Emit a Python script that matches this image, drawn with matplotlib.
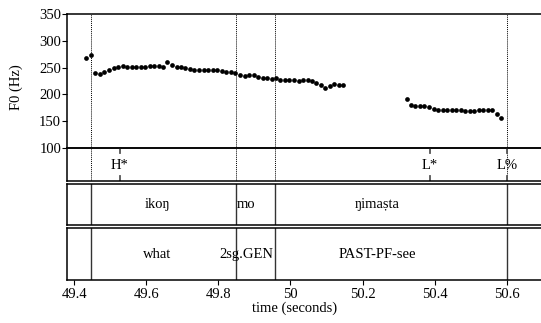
import matplotlib
matplotlib.use("Agg")
import matplotlib.pyplot as plt

plt.rcParams['font.family'] = ['Liberation Serif', 'DejaVu Serif']
plt.rcParams['font.size'] = 10.5

# F0 pitch track, segment 1
t1 = [49.4325, 49.4455, 49.4583, 49.4713, 49.4832, 49.4963, 49.5093, 49.5212,
      49.5343, 49.5462, 49.5592, 49.5712, 49.5842, 49.5970, 49.6092, 49.6219,
      49.6341, 49.6452, 49.6580, 49.6710, 49.6840, 49.6960, 49.7079, 49.7209,
      49.7329, 49.7459, 49.7589, 49.7717, 49.7839, 49.7967, 49.8089, 49.8216,
      49.8347, 49.8466, 49.8596, 49.8727, 49.8846, 49.8976, 49.9104, 49.9226,
      49.9354, 49.9476, 49.9587, 49.9714, 49.9845, 49.9964, 50.0094, 50.0225,
      50.0344, 50.0474, 50.0594, 50.0713, 50.0835, 50.0963, 50.1093, 50.1213,
      50.1343, 50.1462]
f1 = [267.7, 273.3, 240.2, 238.4, 241.5, 245.3, 249.6, 251.5, 252.2, 251.5,
      250.9, 250.9, 251.5, 251.5, 252.2, 252.2, 253.3, 250.3, 260.2, 254.6,
      250.5, 251.5, 249.6, 247.7, 245.9, 245.3, 245.3, 245.9, 245.3, 244.7,
      243.4, 242.1, 241.0, 239.1, 235.9, 234.6, 235.9, 235.3, 232.7, 230.9,
      229.8, 229.4, 229.8, 227.1, 226.6, 226.6, 226.6, 225.3, 226.6, 227.1,
      225.3, 222.2, 217.2, 211.6, 215.9, 219.6, 217.8, 216.7]
# F0 pitch track, segment 2
t2 = [50.3221, 50.3332, 50.3459, 50.3581, 50.3709, 50.3839, 50.3970, 50.4089,
      50.4219, 50.4347, 50.4469, 50.4596, 50.4718, 50.4846, 50.4968, 50.5096,
      50.5218, 50.5345, 50.5468, 50.5587, 50.5717, 50.5836]
f2 = [191.6, 180.4, 178.5, 178.5, 178.0, 176.1, 172.9, 171.8, 171.8, 171.8,
      171.8, 171.0, 170.5, 169.9, 169.9, 169.2, 170.5, 170.5, 170.5, 170.5,
      163.0, 156.1]

# word boundaries
bounds = [49.446, 49.849, 49.958, 50.600]
words = ["ikoŋ", "mo", "ŋimaṣta"]
glosses = ["what", "2sg.GEN", "PAST-PF-see"]
label_t = [49.631, 49.878, 50.241]
tones = ["H*", "L*", "L%"]
tone_t = [49.527, 50.387, 50.600]

yticks = [100, 150, 200, 250, 300, 350]
xticks = [49.4, 49.6, 49.8, 50.0, 50.2, 50.4, 50.6]
xticklabels = ["49.4", "49.6", "49.8", "50", "50.2", "50.4", "50.6"]

W, H = 541, 323
fig = plt.figure(figsize=(W / 100, H / 100), dpi=100)
xlim = (49.3795, 50.6946)
left = 66.7 / W
width = 1.0 - left


def ax_at(top_px, bot_px):
    return fig.add_axes([left, 1 - bot_px / H, width, (bot_px - top_px) / H])


lw_sp = 1.1
ax = ax_at(14, 148)
ax_tone = ax_at(148, 181.2)
ax_word = ax_at(183.8, 224.6)
ax_gloss = ax_at(227.6, 280)

for a in (ax, ax_tone, ax_word, ax_gloss):
    a.set_xlim(*xlim)
    a.spines['right'].set_visible(False)
    for s in ('left', 'top', 'bottom'):
        a.spines[s].set_linewidth(lw_sp)
    a.set_facecolor('none')

# F0 panel
ax.set_ylim(100, 350)
ax.plot(t1, f1, 'o', color='black', markersize=3.4, markeredgewidth=0)
ax.plot(t2, f2, 'o', color='black', markersize=3.4, markeredgewidth=0)
for b in bounds:
    ax.axvline(b, color='black', lw=0.7, ls=(0, (1, 1)))
ax.set_yticks(yticks)
ax.tick_params(axis='y', direction='out', length=3.5, width=0.8, pad=0.5)
ax.set_xticks([])
ax.set_ylabel("F0 (Hz)")
ax.yaxis.set_label_coords(-0.0915, 0.451)

# tone tier
ax_tone.set_ylim(0, 1)
ax_tone.set_yticks([])
ax_tone.set_xticks([])
for b in bounds:
    ax_tone.axvline(b, color='black', lw=0.7, ls=(0, (1, 1)))
for lab, t in zip(tones, tone_t):
    ax_tone.plot([t, t], [1, 0.84], color='#555555', lw=1.3)
    ax_tone.plot([t, t], [0, 0.16], color='#555555', lw=1.3)
    ax_tone.text(t, 0.47, lab, ha='center', va='center')

# word and gloss tiers
for a, labs in ((ax_word, words), (ax_gloss, glosses)):
    a.set_ylim(0, 1)
    a.set_yticks([])
    for b in bounds:
        a.axvline(b, color='#333333', lw=1.0)
    for lab, t in zip(labs, label_t):
        a.text(t, 0.49, lab, ha='center', va='center')
ax_word.set_xticks([])

ax_gloss.set_xticks(xticks)
ax_gloss.set_xticklabels(xticklabels)
ax_gloss.tick_params(axis='x', direction='out', length=3.5, width=0.8, pad=2)
ax_gloss.set_xlabel("time (seconds)")
ax_gloss.xaxis.set_label_coords(0.480, -0.54)
ax_gloss.xaxis.label.set_va('center')

fig.savefig("out.png", dpi=100)
